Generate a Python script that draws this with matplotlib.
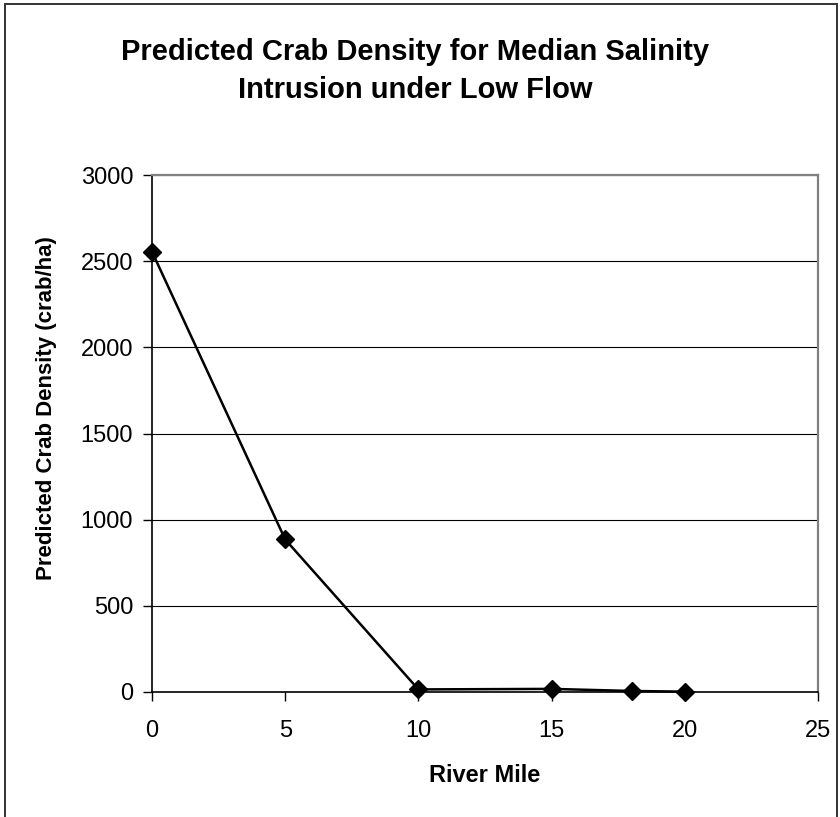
import matplotlib
matplotlib.use("Agg")
import matplotlib.pyplot as plt
from matplotlib.patches import Rectangle

river_mile = [0, 5, 10, 15, 18, 20]
crab_density = [2555, 885, 15, 18, 6, 2]
x_ticks = [0, 5, 10, 15, 20, 25]
y_ticks = [0, 500, 1000, 1500, 2000, 2500, 3000]

plt.rcParams["font.family"] = ["Liberation Sans", "DejaVu Sans"]

W, H = 840, 817
fig = plt.figure(figsize=(W / 100, H / 100), dpi=100)
ax = fig.add_axes([152 / W, 1 - 692 / H, (818 - 152) / W, (692 - 175) / H])

# outer chart border
fig.patches.append(Rectangle((5 / W, -0.1), (837 - 5) / W, 1 - 4 / H + 0.1,
                             transform=fig.transFigure, fill=False,
                             edgecolor="#333333", linewidth=1.4))

ax.plot(river_mile, crab_density, color="black", linewidth=1.8,
        marker="D", markersize=9, markerfacecolor="black",
        markeredgecolor="black", clip_on=False, zorder=5)

ax.set_xlim(0, 25)
ax.set_ylim(0, 3000)
ax.set_xticks(x_ticks)
ax.set_yticks(y_ticks)
ax.tick_params(axis="both", direction="out", length=6.5, width=1,
               labelsize=17)
ax.tick_params(axis="y", pad=7)
ax.tick_params(axis="x", pad=14)
ax.yaxis.grid(True, color="black", linewidth=0.8)
ax.set_axisbelow(True)

for side in ("top", "right"):
    ax.spines[side].set_color("#808080")
    ax.spines[side].set_linewidth(1.6)
for side in ("left", "bottom"):
    ax.spines[side].set_color("black")
    ax.spines[side].set_linewidth(1.2)

fig.text(485 / W, 1 - 775 / H, "River Mile", ha="center", va="center",
         fontsize=17, fontweight="bold")
fig.text(47 / W, 1 - 408 / H, "Predicted Crab Density (crab/ha)",
         ha="center", va="center", rotation=90, fontsize=16,
         fontweight="bold")

fig.text(415 / W, 1 - 71 / H,
         "Predicted Crab Density for Median Salinity\nIntrusion under Low Flow",
         ha="center", va="center", fontsize=21, fontweight="bold",
         linespacing=1.5)

fig.savefig("out.png", dpi=100)
